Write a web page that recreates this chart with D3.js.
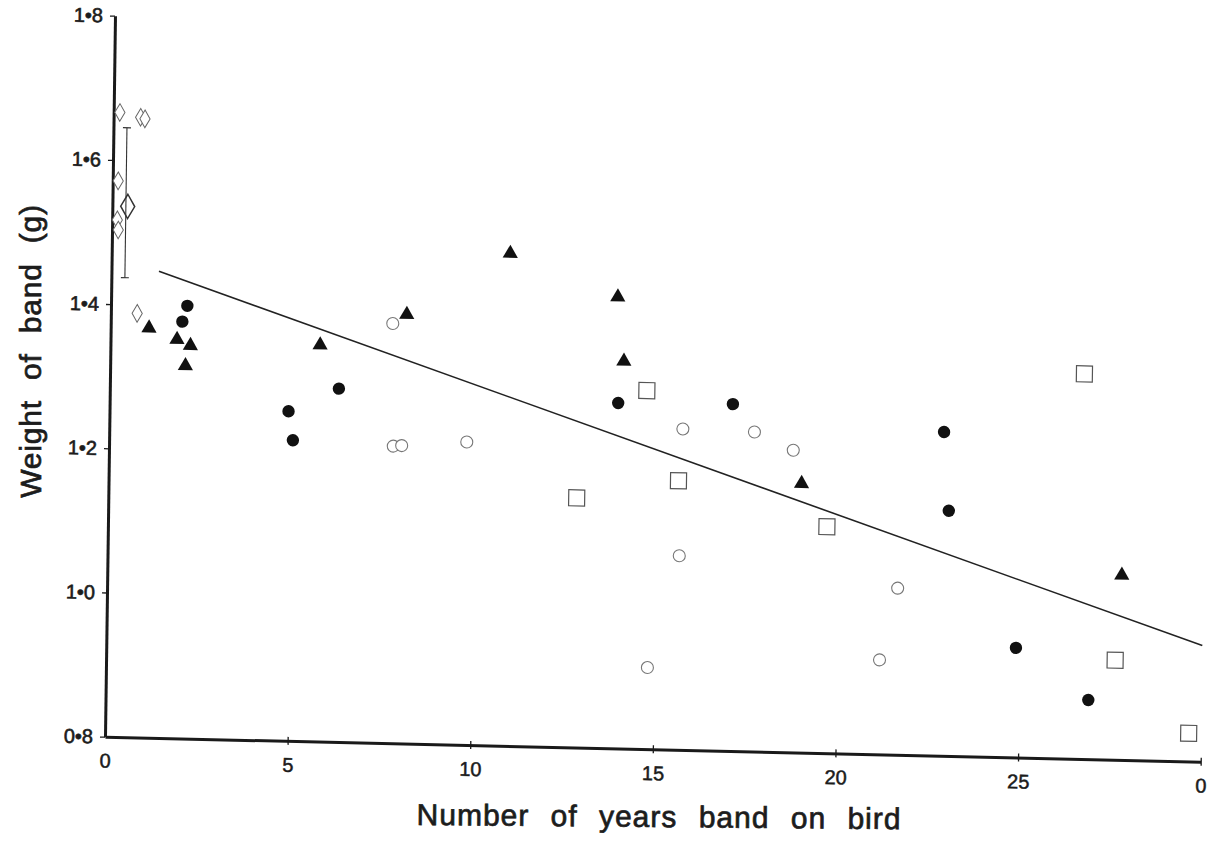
<!DOCTYPE html>
<html><head><meta charset="utf-8">
<script src="https://cdn.jsdelivr.net/npm/d3@7"></script>
<style>
body{margin:0;background:#fff}
svg{display:block;background:#fff}
text{font-family:"Liberation Sans",Arial,Helvetica,sans-serif;fill:#1c1c1c}
</style>
</head><body>
<svg id="chart" width="1223" height="842"></svg>
<script>
// ---- data ----
const xTickValues = [0, 5, 10, 15, 20, 25, 30];
const xTickLabels = ["0", "5", "10", "15", "20", "25", "0"];
const yTickValues = [0.8, 1.0, 1.2, 1.4, 1.6, 1.8];
const yTickLabels = ["0•8", "1•0", "1•2", "1•4", "1•6", "1•8"];
const xTitle = "Number of years band on bird";
const yTitle = "Weight of band (g)";

// [years, weight g]
const smallDiamonds = [[0.17,1.666],[0.74,1.660],[0.86,1.658],[0.15,1.571],[0.14,1.517],[0.17,1.503],[0.72,1.388]];
const meanDiamond = [[0.42,1.536]];
const meanErrorBar = [[0.37,1.437,1.645]];   // [years, low, high]
const filledTriangles = [[1.05,1.370],[1.82,1.355],[2.19,1.347],[2.06,1.319],[5.74,1.352],[8.10,1.397],[10.91,1.485],[13.87,1.428],[14.06,1.339],[18.97,1.175],[27.77,1.058]];
const filledCircles = [[2.09,1.400],[1.96,1.378],[6.27,1.290],[4.90,1.257],[5.03,1.217],[13.92,1.279],[17.06,1.281],[22.85,1.249],[23.01,1.140],[24.90,0.952],[26.90,0.882]];
const openCircles = [[7.72,1.382],[7.78,1.212],[8.01,1.213],[9.79,1.220],[15.70,1.245],[17.66,1.243],[18.73,1.219],[15.65,1.069],[14.82,0.913],[21.64,1.031],[21.17,0.931]];
const openSquares = [[14.70,1.297],[15.60,1.173],[12.82,1.146],[19.68,1.114],[26.67,1.334],[27.62,0.938],[29.66,0.839]];
const regressionLine = [[1.3,1.447],[30,0.961]];

// ---- layout ----
const svg = d3.select("#chart");
svg.append("rect").attr("width",1223).attr("height",842).attr("fill","#fff");

const x = d3.scaleLinear().domain([0,30]).range([0,1095.7]);
const y = d3.scaleLinear().domain([0.8,1.8]).range([0,-721]);

// the printed figure is slightly skewed; reproduce with an affine transform
const plot = svg.append("g").attr("transform","matrix(1,0.0228,-0.01387,1,105,736.7)");

const ink = "#1a1a1a";

// axes
const gx = plot.append("g")
  .call(d3.axisBottom(x).tickValues(xTickValues).tickFormat((d,i)=>xTickLabels[i]).tickSize(4).tickSizeOuter(0));
gx.select(".domain").attr("stroke",ink).attr("stroke-width",3);
gx.selectAll(".tick line").attr("y1",-4).attr("y2",4).attr("stroke",ink).attr("stroke-width",1.3)
  .filter(d=>d===0).remove();
gx.selectAll(".tick text").attr("y",31).attr("dy",null)
  .style("font-size","20px").attr("fill","#1c1c1c").attr("stroke","#1c1c1c").attr("stroke-width",0.5);

const gy = plot.append("g")
  .call(d3.axisLeft(y).tickValues(yTickValues).tickFormat((d,i)=>yTickLabels[i]).tickSize(5).tickPadding(7).tickSizeOuter(0));
gy.select(".domain").attr("stroke",ink).attr("stroke-width",3);
gy.selectAll(".tick line").attr("stroke",ink).attr("stroke-width",1.3);
gy.selectAll(".tick text").style("font-size","20px").attr("fill","#1c1c1c").attr("stroke","#1c1c1c").attr("stroke-width",0.6);

// regression line
plot.append("path").datum(regressionLine)
  .attr("d", d3.line().x(d=>x(d[0])).y(d=>y(d[1])))
  .attr("fill","none").attr("stroke","#222").attr("stroke-width",1.6);

// error bar
const eb = plot.append("g").selectAll("g").data(meanErrorBar).join("g");
eb.append("line").attr("x1",d=>x(d[0])).attr("x2",d=>x(d[0])).attr("y1",d=>y(d[1])).attr("y2",d=>y(d[2]))
  .attr("stroke","#333").attr("stroke-width",1.1);
eb.append("line").attr("x1",d=>x(d[0])-4).attr("x2",d=>x(d[0])+4).attr("y1",d=>y(d[1])).attr("y2",d=>y(d[1]))
  .attr("stroke","#333").attr("stroke-width",1.1);
eb.append("line").attr("x1",d=>x(d[0])-4).attr("x2",d=>x(d[0])+4).attr("y1",d=>y(d[2])).attr("y2",d=>y(d[2]))
  .attr("stroke","#333").attr("stroke-width",1.1);

// markers
const diamondSmall = d3.symbol().type(d3.symbolDiamond).size(90)();
const diamondBig = d3.symbol().type(d3.symbolDiamond).size(170)();
const tri = d3.symbol().type(d3.symbolTriangle).size(100)();
const sq = d3.symbol().type(d3.symbolSquare).size(256)();

plot.append("g").selectAll("path").data(smallDiamonds).join("path")
  .attr("d",diamondSmall).attr("transform",d=>`translate(${x(d[0])},${y(d[1])})`)
  .attr("fill","#fff").attr("stroke","#666").attr("stroke-width",1);

plot.append("g").selectAll("path").data(meanDiamond).join("path")
  .attr("d",diamondBig).attr("transform",d=>`translate(${x(d[0])},${y(d[1])})`)
  .attr("fill","none").attr("stroke","#333").attr("stroke-width",1.5);

plot.append("g").selectAll("circle").data(openCircles).join("circle")
  .attr("cx",d=>x(d[0])).attr("cy",d=>y(d[1])).attr("r",6)
  .attr("fill","#fff").attr("stroke","#777").attr("stroke-width",1.1);

plot.append("g").selectAll("path").data(openSquares).join("path")
  .attr("d",sq).attr("transform",d=>`translate(${x(d[0])},${y(d[1])})`)
  .attr("fill","#fff").attr("stroke","#555").attr("stroke-width",1.2);

plot.append("g").selectAll("circle").data(filledCircles).join("circle")
  .attr("cx",d=>x(d[0])).attr("cy",d=>y(d[1])).attr("r",6.2)
  .attr("fill","#111");

plot.append("g").selectAll("path").data(filledTriangles).join("path")
  .attr("d",tri).attr("transform",d=>`translate(${x(d[0])},${y(d[1])+1.5})`)
  .attr("fill","#111");

// titles
svg.append("text").attr("x",659).attr("y",827).attr("text-anchor","middle")
  .attr("transform","rotate(0.5,659,827)")
  .style("font-size","30px").style("letter-spacing","1px").style("word-spacing","12px")
  .attr("stroke","#1c1c1c").attr("stroke-width",0.7)
  .text(xTitle);

svg.append("text").attr("transform","translate(41,351) rotate(-90)").attr("text-anchor","middle")
  .style("font-size","30px").style("letter-spacing","0.8px").style("word-spacing","11px")
  .attr("stroke","#1c1c1c").attr("stroke-width",0.7)
  .text(yTitle);
</script>
</body></html>
